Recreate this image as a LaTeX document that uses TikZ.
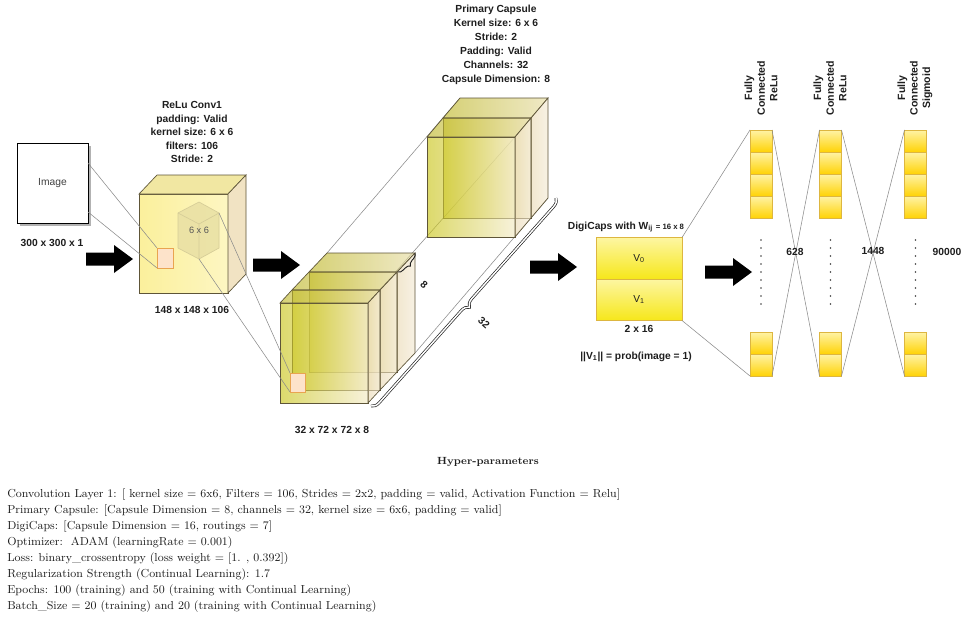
\documentclass[tikz,border=0pt]{standalone}
\usepackage{fontspec}
\setsansfont{Liberation Sans}
\usetikzlibrary{decorations.pathreplacing}
\definecolor{txt}{HTML}{1E1E1E}
\definecolor{edge}{HTML}{5E5538}
\definecolor{thinl}{HTML}{8A8A8A}
\definecolor{pcA}{HTML}{C8C312}
\definecolor{pcB}{HTML}{F3EAC4}
\definecolor{pcTA}{HTML}{BDB522}
\definecolor{pcTB}{HTML}{E6DCA2}
\definecolor{pcS}{HTML}{EAD9B2}
\definecolor{pcS2}{HTML}{F4EAD4}
\definecolor{cvF}{HTML}{FBF09C}
\definecolor{cvF2}{HTML}{FDF6C2}
\definecolor{cvT}{HTML}{F1E7A2}
\definecolor{cvS}{HTML}{F1E3C3}
\definecolor{cellE}{HTML}{DDB640}
\definecolor{cellA}{HTML}{FFF3A6}
\definecolor{cellB}{HTML}{FFD306}
\definecolor{dcA}{HTML}{FDF6A2}
\definecolor{dcB}{HTML}{F6E71A}
\definecolor{sqF}{HTML}{FDE3CA}
\definecolor{sqE}{HTML}{E9A450}
\definecolor{hexF}{HTML}{E9E0A4}
\definecolor{hexE}{HTML}{D6CD98}

\newcommand\boxcube[7]{%
  \path[#7front] (#1,#2) rectangle ++(#3,#4);
  \path[#7top] (#1,#2) -- ++(#3,0) -- ++(#5,#6) -- ++({-(#3)},0) -- cycle;
  \path[#7side] ({#1+#3},#2) -- ++(#5,#6) -- ++(0,#4) -- ++({-(#5)},{-(#6)}) -- cycle;
}
\newcommand\blockarrow[2]{%
  \fill[black] (#1,#2) ++(0,-6.5) -- ++(28,0) -- ++(0,-7.5) -- ++(19,14) -- ++(-19,14) -- ++(0,-7.5) -- ++(-28,0) -- cycle;}

\begin{document}
\begin{tikzpicture}[x=0.75pt,y=-0.75pt,
  lab/.style={font=\sffamily\bfseries\fontsize{7.7}{10.1}\selectfont, text=txt, align=center, inner sep=0pt},
  fclab/.style={font=\sffamily\bfseries\fontsize{7.9}{9.4}\selectfont, text=txt, align=center, inner sep=0pt, rotate=90},
  hp/.style={font=\fontsize{8.7}{11}\selectfont, text=txt, anchor=base west, inner sep=0pt},
  thin line/.style={draw=thinl, line width=0.4pt},
  cvfront/.style={left color=cvF, right color=cvF2, draw=edge, line width=0.5pt},
  cvtop/.style={fill=cvT, draw=edge, line width=0.5pt},
  cvside/.style={fill=cvS, draw=edge, line width=0.5pt},
  pcfront/.style={left color=pcA, right color=pcB, fill opacity=0.62, draw=edge, line width=0.5pt},
  pctop/.style={left color=pcTA, right color=pcTB, fill opacity=0.62, draw=edge, line width=0.5pt},
  pcside/.style={left color=pcS, right color=pcS2, fill opacity=0.62, draw=edge, line width=0.5pt},
  cell/.style={draw=cellE, line width=0.5pt, top color=cellA, bottom color=cellB, minimum width=16.5pt, minimum height=16.5pt, inner sep=0pt, outer sep=0pt},
  dcell/.style={draw=cellE, line width=0.5pt, top color=dcA, bottom color=dcB, minimum width=64.5pt, minimum height=31.1pt, inner sep=0pt, outer sep=0pt, font=\sffamily\fontsize{7.6}{9}\selectfont, text=txt},
  sqbox/.style={draw=sqE, line width=0.5pt, fill=sqF, inner sep=0pt, outer sep=0pt},
  dots/.style={draw=txt!85, line width=1.4pt, line cap=round, dash pattern=on 0pt off 6pt},
  bracedec/.style={draw=txt, line width=0.7pt, decorate}
]
\useasboundingbox[fill=white] (0,0) rectangle (961,621);

% ---------- Image ----------
\fill[black!30] (19.5,145.5) rectangle (90.5,225.5);
\node[draw=black, line width=0.6pt, fill=white, minimum width=53.25pt, minimum height=60pt, inner sep=0pt,
      font=\sffamily\fontsize{7.7}{9}\selectfont, text=txt!85] (img) at (52.5,183) {Image};
\node[lab] (imglab) at (52,243) {300 x 300 x 1};
\blockarrow{86}{259}

% ---------- Conv1 ----------
\boxcube{139}{194}{89}{99}{18}{-19}{cv}
\path[fill=hexF, fill opacity=0.85, draw=hexE, line width=0.5pt]
  (199,202) -- (219,213) -- (219,248) -- (199,259) -- (178,248) -- (178,213) -- cycle;
\draw[draw=hexE, line width=0.5pt] (178,213) -- (199,224) -- (219,213) (199,224) -- (199,259);
\node[font=\sffamily\fontsize{6.9}{8}\selectfont, text=txt!75, inner sep=0pt] (hx) at (199,230) {6 x 6};
\node[sqbox, minimum width=12pt, minimum height=15pt] (sq1) at (165,258) {};
\coordinate (imA) at (88,163);
\coordinate (imB) at (88,212);
\draw[thin line] (imA) -- (sq1.north west);
\draw[thin line] (imB) -- (sq1.south west);
\node[lab] (relu) at (192,132) {ReLu Conv1\\padding: Valid\\kernel size: 6 x 6\\filters: 106\\Stride: 2};
\node[lab] (convlab) at (192,310) {148 x 148 x 106};
\blockarrow{253}{265}

% ---------- Primary capsules ----------
\coordinate (fsTL) at (327,253);
\coordinate (fsBR) at (415,353);
\coordinate (fsTR) at (368,303);
\coordinate (farTL) at (460,98);
\coordinate (farBR) at (548,198);
\coordinate (farTR) at (515,137);
\draw[thin line] (fsTL) -- (farTL);
\draw[thin line] (fsBR) -- (farBR);
\draw[thin line] (fsTR) -- (farTR);
% far cube
\boxcube{443}{118}{88}{100}{17}{-20}{pc}
\boxcube{427}{137}{88}{100}{16}{-19}{pc}
% front stack
\boxcube{309}{272}{88}{100}{18}{-19}{pc}
\boxcube{292}{290}{88}{100}{17}{-18}{pc}
\boxcube{280}{303}{88}{100}{12}{-13}{pc}
\node[sqbox, minimum width=11.25pt, minimum height=14.25pt] (sq2) at (297.5,382.5) {};
\coordinate (hxUR) at (219,213);
\coordinate (hxB) at (199,259);
\draw[thin line] (hxUR) -- (sq2.north west);
\draw[thin line] (hxB) -- (sq2.south west);
% braces
\coordinate (b8a) at (415,253);
\coordinate (b8b) at (398,272);
\draw[bracedec, decoration={brace, amplitude=4pt}] (b8a) -- (b8b);
\node[lab, rotate=-42] (l8) at (424,285) {8};
\coordinate (b32a) at (556,198);
\coordinate (b32b) at (371,406);
\draw[bracedec, line width=0.5pt, double=white, double distance=1.1pt, decoration={brace, amplitude=6pt}] (b32a) -- (b32b);
\node[lab, rotate=-42] (l32) at (484,323) {32};
\node[lab] (pclab) [font=\sffamily\bfseries\fontsize{7.7}{10.6}\selectfont] at (496,45)
  {Primary Capsule\\Kernel size: 6 x 6\\Stride: 2\\Padding: Valid\\Channels: 32\\Capsule Dimension: 8};
\node[lab] (pcsize) at (332,430) {32 x 72 x 72 x 8};
\blockarrow{530}{267}

% ---------- DigiCaps ----------
\node[dcell] (dc0) at (639,258.25) {V\textsubscript{0}};
\node[dcell] (dc1) at (639,299.75) {V\textsubscript{1}};
\node[lab] (dctitle) at (626,227) {DigiCaps with W\textsubscript{ij} {\fontsize{5.8}{7}\selectfont = 16 x 8}};
\node[lab] (dcsize) at (639,329) {2 x 16};
\node[lab] (prob) at (636,357) {||V\textsubscript{1}|| = prob(image = 1)};
\blockarrow{705}{272}

% ---------- Fully connected ----------
\foreach \c/\x in {1/761,2/830.5,3/915.5}{
  \node[cell] (c\c a) at (\x,141) {};
  \node[cell] (c\c b) at (\x,163) {};
  \node[cell] (c\c c) at (\x,185) {};
  \node[cell] (c\c d) at (\x,207) {};
  \node[cell] (c\c e) at (\x,343) {};
  \node[cell] (c\c f) at (\x,365) {};
  \coordinate (d\c a) at (\x,240);
  \coordinate (d\c b) at (\x,310);
  \draw[dots] (d\c a) -- (d\c b);
}
\draw[thin line] (dc0.north east) -- (c1a.north west);
\draw[thin line] (dc1.south east) -- (c1f.south west);
\draw[thin line] (c1a.north east) -- (c2f.south west);
\draw[thin line] (c1f.south east) -- (c2a.north west);
\draw[thin line] (c2a.north east) -- (c3f.south west);
\draw[thin line] (c2f.south east) -- (c3a.north west);
\node[fclab] (fc1) at (761,88) {Fully\\Connected\\ReLu};
\node[fclab] (fc2) at (830,88) {Fully\\Connected\\ReLu};
\node[fclab] (fc3) at (915,88) {Fully\\Connected\\Sigmoid};
\node[lab] (n628) at (795,252) {628};
\node[lab] (n1448) at (873,251) {1448};
\node[lab] (n90000) at (947,252) {90000};

% ---------- Hyper-parameters ----------
\node[font=\bfseries\fontsize{7.8}{9}\selectfont, text=txt, inner sep=0pt] (hptitle) at (488,462) {Hyper-parameters};
\node[hp] (hp1) at (7,497) {Convolution Layer 1: [ kernel size = 6x6, Filters = 106, Strides = 2x2, padding = valid, Activation Function = Relu]};
\node[hp] (hp2) at (7,513) {Primary Capsule: [Capsule Dimension = 8, channels = 32, kernel size = 6x6, padding = valid]};
\node[hp] (hp3) at (7,529) {DigiCaps: [Capsule Dimension = 16, routings = 7]};
\node[hp] (hp4) at (7,545) {Optimizer:\ \ ADAM (learningRate = 0.001)};
\node[hp] (hp5) at (7,561) {Loss: binary\_crossentropy (loss weight = [1. , 0.392])};
\node[hp] (hp6) at (7,577) {Regularization Strength (Continual Learning): 1.7};
\node[hp] (hp7) at (7,593) {Epochs: 100 (training) and 50 (training with Continual Learning)};
\node[hp] (hp8) at (7,609) {Batch\_Size = 20 (training) and 20 (training with Continual Learning)};
\end{tikzpicture}
\end{document}
